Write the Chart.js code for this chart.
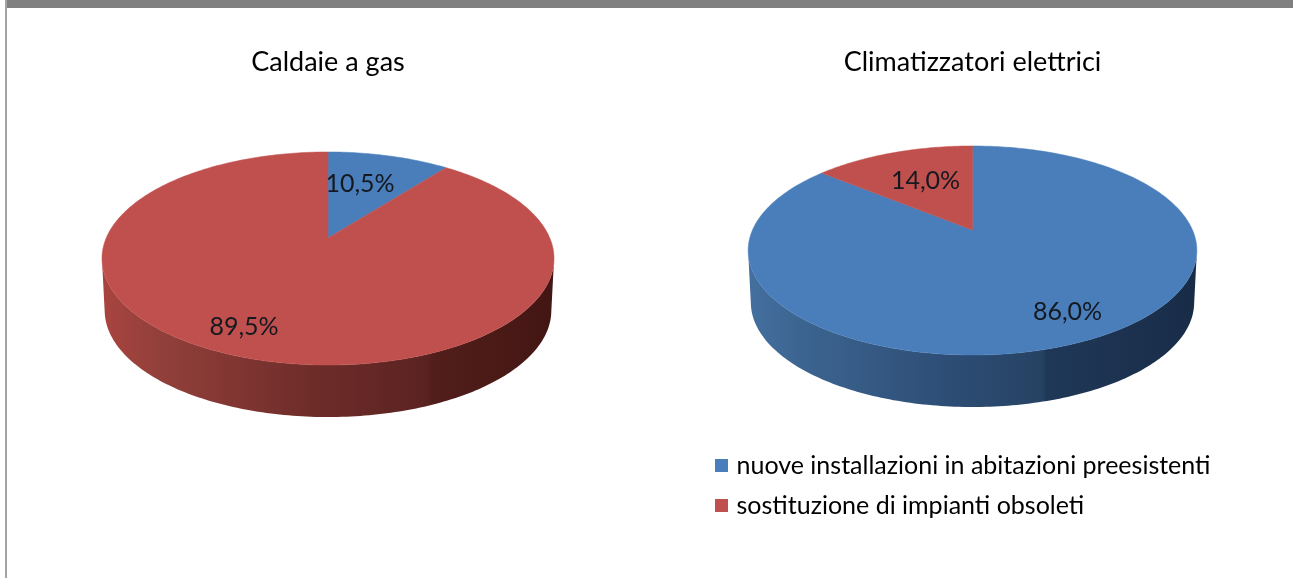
<!DOCTYPE html>
<html lang="it"><head><meta charset="utf-8">
<script src="https://cdn.jsdelivr.net/npm/chart.js@4/dist/chart.umd.js"></script>
<style>
html,body{margin:0;padding:0;background:#fff;width:1293px;height:578px;overflow:hidden}
#bar{position:absolute;left:7px;top:0;right:0;height:8px;background:#808080}
#side{position:absolute;left:5px;top:0;width:2px;height:578px;background:#a3a3a3}
.box{position:absolute;top:0;height:578px}
canvas{display:block}
</style></head><body>
<div id="bar"></div><div id="side"></div>
<div class="box" style="left:0;width:656px"><canvas id="gas"></canvas></div>
<div class="box" style="left:704px;width:537px"><canvas id="ac"></canvas></div>
<script>
const categories = ['nuove installazioni in abitazioni preesistenti', 'sostituzione di impianti obsoleti'];
const gasValues = [10.5, 89.5];
const acValues = [86.0, 14.0];
const titles = ['Caldaie a gas', 'Climatizzatori elettrici'];
const sliceColors = ['#4a7ebb', '#c0504d'];

const wallStops = {
  '#c0504d': [[0,'#a9443f'],[.12,'#93403b'],[.45,'#702d2a'],[.72,'#5a2321'],[.73,'#521e1b'],[1,'#431613']],
  '#4a7ebb': [[0,'#44709f'],[.12,'#3c6490'],[.45,'#2d4d75'],[.655,'#264363'],[.665,'#203858'],[1,'#182c47']]
};

const Base = Chart.ArcElement;
class Arc3D extends Base {
  static id = 'arc3d';
  static defaults = Base.defaults;
  static defaultRoutes = Base.defaultRoutes;
  draw(ctx) {
    const P = this.$persp;
    if (!P) return;
    const {a, b, p, apexY, depth} = P;
    const cx = this.x;
    const proj = t => {
      const u = Math.cos(t), v = Math.sin(t), w = 1 - p * v;
      return [cx + a * u / w, apexY + b * v / w];
    };
    const s = this.startAngle, e = this.endAngle, N = Math.max(8, Math.ceil((e - s) * 60));
    const pts = [];
    for (let i = 0; i <= N; i++) pts.push(s + (e - s) * i / N);
    const col = this.options.backgroundColor;
    const front = pts.filter(t => Math.sin(t) >= p);
    if (front.length > 1) {
      const rx = a / Math.sqrt(1 - p * p);
      const g = ctx.createLinearGradient(cx - rx, 0, cx + rx, 0);
      wallStops[col].forEach(q => g.addColorStop(q[0], q[1]));
      ctx.beginPath();
      front.forEach((t, i) => { const q = proj(t); i ? ctx.lineTo(q[0], q[1]) : ctx.moveTo(q[0], q[1]); });
      [...front].reverse().forEach(t => { const q = proj(t); ctx.lineTo(cx + (q[0] - cx) * .988, q[1] + depth); });
      ctx.closePath();
      ctx.fillStyle = g; ctx.fill();
    }
    ctx.beginPath();
    ctx.moveTo(cx, apexY);
    pts.forEach(t => { const q = proj(t); ctx.lineTo(q[0], q[1]); });
    ctx.closePath();
    ctx.fillStyle = col; ctx.fill();
    ctx.strokeStyle = col; ctx.lineWidth = .5; ctx.stroke();
  }
}
const PieBase = Chart.PieController;
class Pie3D extends PieBase {
  static id = 'pie3d';
  static defaults = {...PieBase.defaults, dataElementType: 'arc3d'};
  static overrides = PieBase.overrides;
  draw() {
    const P = this.chart.options.plugins.persp;
    this.getMeta().data.forEach(el => el.$persp = P);
    super.draw();
  }
}
Chart.register(Arc3D, Pie3D);

const valueLabels = {
  id: 'valueLabels',
  afterDatasetsDraw(chart, args, opts) {
    const ctx = chart.ctx, P = chart.options.plugins.persp, meta = chart.getDatasetMeta(0);
    ctx.save();
    ctx.font = '25px Lato'; ctx.fillStyle = '#14181f'; ctx.textAlign = 'center'; ctx.textBaseline = 'middle';
    chart.data.datasets[0].data.forEach((v, i) => {
      const o = opts.offsets[i];
      ctx.fillText(v.toFixed(1).replace('.', ',') + '%', meta.data[i].x + o[0], P.apexY + o[1]);
    });
    ctx.restore();
  }
};
function swatch(c) {
  const s = document.createElement('canvas'); s.width = 13; s.height = 13;
  const x = s.getContext('2d'); x.fillStyle = c; x.fillRect(0, 0, 13, 13);
  return s;
}
function makePie(id, values, title, persp, offsets, showLegend, padBottom) {
  new Chart(document.getElementById(id), {
    type: 'pie3d',
    data: { labels: categories, datasets: [{ data: values, backgroundColor: sliceColors, borderWidth: 0 }] },
    plugins: [valueLabels],
    options: {
      responsive: true, maintainAspectRatio: false, animation: false, events: [],
      layout: { padding: { bottom: padBottom } },
      plugins: {
        persp, valueLabels: { offsets },
        tooltip: { enabled: false },
        title: { display: true, text: title, color: '#000', font: { family: 'Lato', size: 27, weight: 'normal' }, padding: { top: 46, bottom: 4 } },
        legend: {
          display: showLegend, position: 'bottom', align: 'start',
          labels: {
            usePointStyle: true, pointStyleWidth: 5, boxWidth: 5, boxHeight: 13, padding: 15,
            color: '#222', font: { family: 'Lato', size: 25 },
            generateLabels: c => c.data.labels.map((t, i) => ({ text: t, pointStyle: swatch(sliceColors[i]), fillStyle: sliceColors[i], strokeStyle: sliceColors[i], lineWidth: 0, index: i, hidden: false }))
          }
        }
      }
    }
  });
}
document.fonts.load('25px Lato').finally(() => {
  makePie('gas', gasValues, titles[0], { a: 221.8, b: 102.6, p: .1925, apexY: 238, depth: 52 }, [[32, -54], [-84, 89]], false, 0);
  makePie('ac', acValues, titles[1], { a: 220, b: 100.5, p: .196, apexY: 230, depth: 52 }, [[95, 82], [-47, -49]], true, 50);
});
</script>
</body></html>
